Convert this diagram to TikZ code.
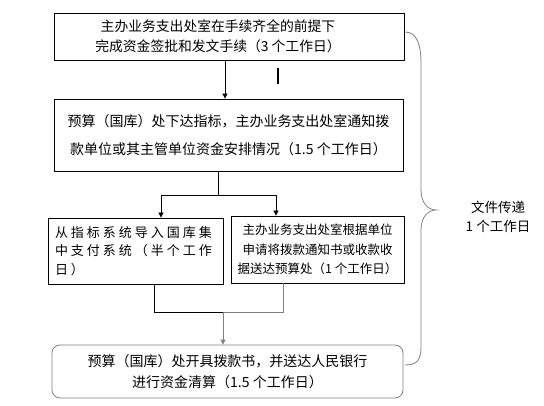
\documentclass[tikz,border=0pt]{standalone}
\usepackage{fontspec}
\setmainfont{Noto Sans CJK SC}
\usetikzlibrary{arrows.meta}

\tikzset{
    box/.style={draw, line width=0.8pt, inner sep=0pt, align=center},
    arr/.style={-{Triangle[width=5pt,length=5pt]}},
}

\begin{document}
\begin{tikzpicture}[x=1pt, y=-1pt, line width=0.8pt]
    % параметры
    \def\G{black!50}    % серый цвет
    \def\F{14}          % размер шрифта

    \useasboundingbox (0,0) rectangle (544,406);

    % блоки
    \node[box, minimum width=350pt, minimum height=47pt,
        label={[name=t1, xshift=-11pt, align=center, font=\fontsize{13.8}{20}\selectfont]center:%
            主办业务支出处室在手续齐全的前提下\\完成资金签批和发文手续（3 个工作日）}]
        (b1) at (229,36.5) {};
    \node[box, minimum width=349pt, minimum height=72pt, font=\fontsize{\F}{28}\selectfont]
        (b2) at (228.5,135) {预算（国库）处下达指标，主办业务支出处室通知拨\\款单位或其主管单位资金安排情况（1.5 个工作日）};
    \node[box, minimum width=175pt, minimum height=66pt, text width=161pt, align=left,
        font=\fontsize{13}{18.5}\selectfont\addfontfeature{LetterSpace=23}]
        (b3) at (135.5,251) {从指标系统导入国库集\\中支付系统（半个工作\\日）};
    \node[box, minimum width=173pt, minimum height=67pt, font=\fontsize{12.5}{19.5}\selectfont]
        (b4) at (317.5,249.5) {主办业务支出处室根据单位\\申请将拨款通知书或收款收\\据送达预算处（1 个工作日）};
    \node[box, draw=\G, rounded corners=8pt, minimum width=351pt, minimum height=53pt,
        font=\fontsize{\F}{21}\selectfont]
        (b5) at (227.5,371.5) {预算（国库）处开具拨款书，并送达人民银行\\进行资金清算（1.5 个工作日）};

    % связи
    \coordinate (fork) at (218,195);
    \coordinate (join) at (223,312);
    \draw[arr] ([xshift=-4pt]b1.south) -- ([xshift=-4pt]b1.south |- b2.north);
    \draw[line width=1.5pt] (278,68) -- (278,84);
    \draw (fork |- b2.south) -- (fork);
    \draw[arr] (fork) -| ([xshift=25.5pt]b3.north);
    \draw[arr] (fork) -| ([xshift=-41.5pt]b4.north);
    \draw ([xshift=18.5pt]b3.south) |- (join);
    \draw[\G] ([xshift=-34.5pt]b4.south) |- (join);
    \draw[arr, \G] (join) -- (join |- b5.north);

    % фигурная скобка
    \draw[\G] (405,32) .. controls (417,32) and (421,45) .. (421,63) -- (421,190)
        .. controls (421,203) and (428,210) .. (436,210)
        .. controls (428,210) and (421,217) .. (421,230) -- (421,347)
        .. controls (421,360) and (417,365) .. (405,365);
    \node[align=center, font=\fontsize{13.5}{19}\selectfont] (note) at (498,217) {文件传递\\1 个工作日};
\end{tikzpicture}
\end{document}
